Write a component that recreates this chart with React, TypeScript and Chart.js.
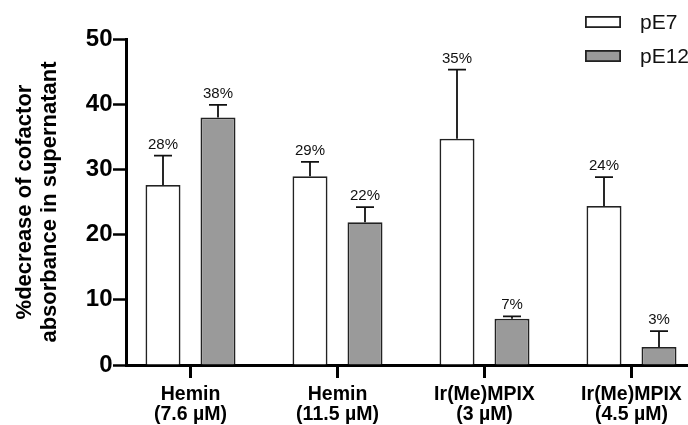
import React, { useEffect, useRef } from "react";
import { Chart, registerables } from "chart.js";

Chart.register(...registerables);

const categories: string[][] = [
  ["Hemin", "(7.6 µM)"],
  ["Hemin", "(11.5 µM)"],
  ["Ir(Me)MPIX", "(3 µM)"],
  ["Ir(Me)MPIX", "(4.5 µM)"],
];
const seriesNames = ["pE7", "pE12"];
const pE7Values = [27.6, 28.95, 34.7, 24.4];
const pE12Values = [37.95, 21.9, 7.1, 2.75];
const pE7Errors = [4.5, 2.2, 10.6, 4.4];
const pE12Errors = [1.95, 2.3, 0.35, 2.45];
const pE7Labels = ["28%", "29%", "35%", "24%"];
const pE12Labels = ["38%", "22%", "7%", "3%"];
const yTicks = [0, 10, 20, 30, 40, 50];
const yTitle = ["%decrease of cofactor", "absorbance in supernatant"];

const FONT = 'Arial, "Liberation Sans", sans-serif';
const CANVAS_W = 780;
const CANVAS_H = 417;
const Y_AXIS_W = 118;
const X_AXIS_H = 60;
const PAD_TOP = 31;
const PAD_RIGHT = 10;
const GROUP_PX = 147;
const FIRST_GROUP_OFFSET = 64.5;
const X_MIN = -FIRST_GROUP_OFFSET / GROUP_PX;
const X_MAX = X_MIN + (CANVAS_W - PAD_RIGHT - Y_AXIS_W) / GROUP_PX;

const errorsByDataset = [pE7Errors, pE12Errors];
const labelsByDataset = [pE7Labels, pE12Labels];
const fills = ["#ffffff", "#9a9a9a"];

const errorBarPlugin = {
  id: "errorBars",
  afterDatasetsDraw(chart: any) {
    const ctx = chart.ctx;
    const yScale = chart.scales.y;
    chart.data.datasets.forEach((ds: any, di: number) => {
      const meta = chart.getDatasetMeta(di);
      meta.data.forEach((bar: any, i: number) => {
        const v = ds.data[i].y;
        const err = errorsByDataset[di][i];
        const capY = yScale.getPixelForValue(v + err);
        const topY = yScale.getPixelForValue(v);
        ctx.save();
        ctx.strokeStyle = "#111";
        ctx.lineWidth = 1.8;
        ctx.beginPath();
        ctx.moveTo(bar.x, topY);
        ctx.lineTo(bar.x, capY);
        ctx.moveTo(bar.x - 9, capY);
        ctx.lineTo(bar.x + 9, capY);
        ctx.stroke();
        ctx.fillStyle = "#111";
        ctx.font = `15px ${FONT}`;
        ctx.textAlign = "center";
        ctx.textBaseline = "alphabetic";
        ctx.fillText(labelsByDataset[di][i], bar.x, capY - 7);
        ctx.restore();
      });
    });
  },
};

const legendPlugin = {
  id: "customLegend",
  afterDraw(chart: any) {
    const ctx = chart.ctx;
    chart.data.datasets.forEach((ds: any, di: number) => {
      const boxX = 577;
      const boxY = 8 + di * 34;
      ctx.save();
      ctx.fillStyle = fills[di];
      ctx.fillRect(boxX, boxY, 36, 12);
      ctx.strokeStyle = "#222";
      ctx.lineWidth = 1.8;
      ctx.strokeRect(boxX + 0.9, boxY + 0.9, 34.2, 10.2);
      ctx.fillStyle = "#111";
      ctx.font = `21px ${FONT}`;
      ctx.textAlign = "left";
      ctx.textBaseline = "middle";
      ctx.fillText(ds.label, 632, boxY + 7);
      ctx.restore();
    });
  },
};

export default function App() {
  const ref = useRef<HTMLCanvasElement | null>(null);
  useEffect(() => {
    document.documentElement.style.overflow = "hidden";
    const canvas = ref.current;
    if (!canvas) return;
    const chart = new Chart(canvas, {
      type: "bar",
      data: {
        datasets: [
          {
            label: seriesNames[0],
            data: pE7Values.map((y, i) => ({ x: i, y })),
            backgroundColor: fills[0],
            borderColor: "#222",
            borderWidth: 1.8,
            categoryPercentage: 110 / GROUP_PX,
            barPercentage: 35 / 55,
          },
          {
            label: seriesNames[1],
            data: pE12Values.map((y, i) => ({ x: i, y })),
            backgroundColor: fills[1],
            borderColor: "#222",
            borderWidth: 1.8,
            categoryPercentage: 110 / GROUP_PX,
            barPercentage: 35 / 55,
          },
        ],
      } as any,
      options: {
        responsive: false,
        animation: false,
        events: [],
        layout: { padding: { top: PAD_TOP, right: PAD_RIGHT, left: 0, bottom: 0 } },
        plugins: { legend: { display: false }, tooltip: { enabled: false } },
        scales: {
          x: {
            type: "linear",
            min: X_MIN,
            max: X_MAX,
            bounds: "data",
            offset: false,
            afterBuildTicks: (scale: any) => {
              scale.ticks = categories.map((_, i) => ({ value: i }));
            },
            afterFit: (scale: any) => {
              scale.height = X_AXIS_H;
            },
            grid: {
              offset: false,
              drawOnChartArea: false,
              drawTicks: true,
              tickLength: 13,
              tickWidth: 3,
              tickColor: "#000",
            },
            border: { display: true, color: "#000", width: 3 },
            ticks: {
              autoSkip: false,
              maxRotation: 0,
              minRotation: 0,
              padding: 6,
              color: "#000",
              font: { family: FONT, size: 19.5, weight: "bold", lineHeight: 1.05 },
              callback: (value: any) => categories[value as number] ?? "",
            },
          },
          y: {
            min: 0,
            max: 50,
            afterBuildTicks: (scale: any) => {
              scale.ticks = yTicks.map((v) => ({ value: v }));
            },
            afterFit: (scale: any) => {
              scale.width = Y_AXIS_W;
            },
            grid: {
              drawOnChartArea: false,
              drawTicks: true,
              tickLength: 13,
              tickWidth: 2.5,
              tickColor: "#000",
            },
            border: { display: true, color: "#000", width: 3 },
            ticks: {
              padding: 0.5,
              color: "#000",
              font: { family: FONT, size: 24, weight: "bold" },
            },
            title: {
              display: true,
              text: yTitle,
              color: "#000",
              padding: { top: 4, bottom: 0 },
              font: { family: FONT, size: 22, weight: "bold", lineHeight: 1.15 },
            },
          },
        },
      } as any,
      plugins: [errorBarPlugin, legendPlugin],
    });
    return () => chart.destroy();
  }, []);

  return (
    <div
      style={{
        position: "fixed",
        left: 8,
        top: 8,
        width: 680,
        height: CANVAS_H,
        overflow: "hidden",
      }}
    >
      <canvas ref={ref} width={CANVAS_W} height={CANVAS_H} style={{ display: "block" }} />
    </div>
  );
}
